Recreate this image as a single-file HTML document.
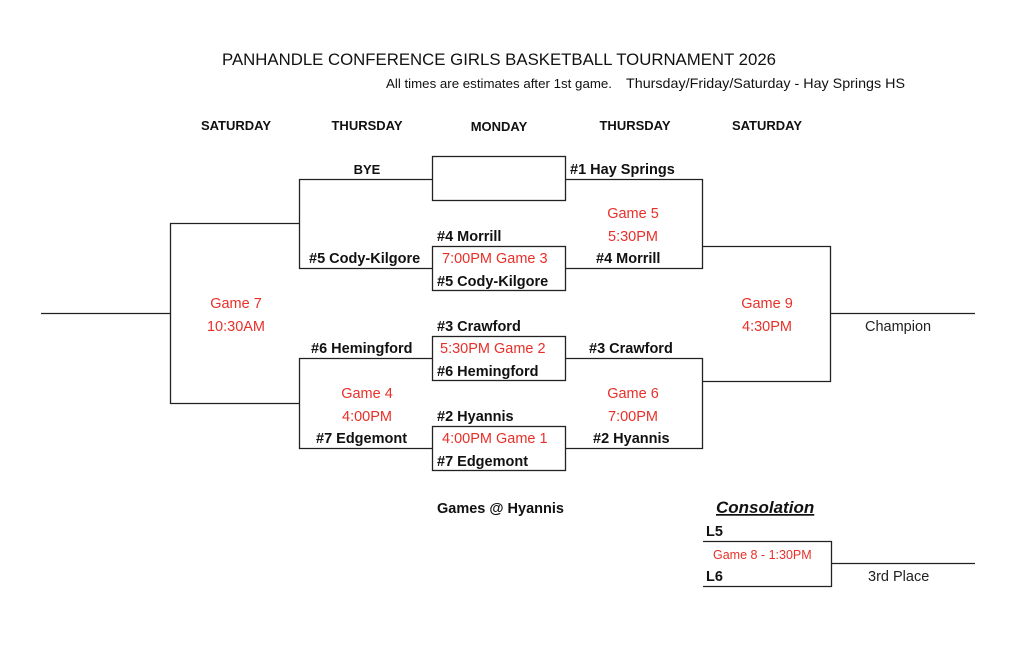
<!DOCTYPE html>
<html><head><meta charset="utf-8"><style>
html,body{margin:0;padding:0;background:#fff;}
svg{display:block;}
text{font-family:"Liberation Sans",sans-serif;}
.b{font-weight:bold;font-size:14.5px;fill:#111;}
.r{font-size:14.5px;fill:#e8302a;}
.h{font-weight:bold;font-size:13px;fill:#111;}
</style></head><body>
<svg width="1024" height="663" xmlns="http://www.w3.org/2000/svg">
<g stroke="#222" stroke-width="1.3" fill="none">
<rect x="432.5" y="156.5" width="133" height="44"/>
<rect x="432.5" y="246.5" width="133" height="44"/>
<rect x="432.5" y="336.5" width="133" height="44"/>
<rect x="432.5" y="426.5" width="133" height="44"/>
<polyline points="432,179.5 299.5,179.5 299.5,268.5 432,268.5"/>
<polyline points="432,358.5 299.5,358.5 299.5,448.5 432,448.5"/>
<polyline points="566,179.5 702.5,179.5 702.5,268.5 566,268.5"/>
<polyline points="566,358.5 702.5,358.5 702.5,448.5 566,448.5"/>
<polyline points="299,223.5 170.5,223.5 170.5,403.5 299,403.5"/>
<line x1="41" y1="313.5" x2="170" y2="313.5"/>
<polyline points="702,246.5 830.5,246.5 830.5,381.5 702,381.5"/>
<line x1="830" y1="313.5" x2="975" y2="313.5"/>
<polyline points="703,541.5 831.5,541.5 831.5,586.5 703,586.5"/>
<line x1="831" y1="563.5" x2="975" y2="563.5"/>
</g>
<text x="222" y="65" font-size="17" fill="#111" textLength="554" lengthAdjust="spacingAndGlyphs">PANHANDLE CONFERENCE GIRLS BASKETBALL TOURNAMENT 2026</text>
<text x="386" y="88" font-size="12.5" fill="#111" textLength="226" lengthAdjust="spacingAndGlyphs">All times are estimates after 1st game.</text>
<text x="626" y="88" font-size="14" fill="#111" textLength="279" lengthAdjust="spacingAndGlyphs">Thursday/Friday/Saturday - Hay Springs HS</text>
<text class="h" x="236" y="130" text-anchor="middle">SATURDAY</text>
<text class="h" x="367" y="130" text-anchor="middle">THURSDAY</text>
<text class="h" x="499" y="131" text-anchor="middle" font-size="12">MONDAY</text>
<text class="h" x="635" y="130" text-anchor="middle">THURSDAY</text>
<text class="h" x="767" y="130" text-anchor="middle">SATURDAY</text>
<text class="h" x="367" y="174" text-anchor="middle">BYE</text>
<text class="b" x="570" y="174">#1 Hay Springs</text>
<text class="r" x="633" y="218" text-anchor="middle">Game 5</text>
<text class="r" x="633" y="241" text-anchor="middle">5:30PM</text>
<text class="b" x="437" y="241">#4 Morrill</text>
<text class="b" x="309" y="263">#5 Cody-Kilgore</text>
<text class="r" x="442" y="263">7:00PM Game 3</text>
<text class="b" x="596" y="263">#4 Morrill</text>
<text class="b" x="437" y="286">#5 Cody-Kilgore</text>
<text class="r" x="236" y="308" text-anchor="middle">Game 7</text>
<text class="r" x="236" y="331" text-anchor="middle">10:30AM</text>
<text class="r" x="767" y="308" text-anchor="middle">Game 9</text>
<text class="r" x="767" y="331" text-anchor="middle">4:30PM</text>
<text x="865" y="331" font-size="14.5" fill="#222">Champion</text>
<text class="b" x="437" y="331">#3 Crawford</text>
<text class="b" x="311" y="353">#6 Hemingford</text>
<text class="r" x="440" y="353">5:30PM  Game 2</text>
<text class="b" x="589" y="353">#3 Crawford</text>
<text class="b" x="437" y="376">#6 Hemingford</text>
<text class="r" x="367" y="398" text-anchor="middle">Game 4</text>
<text class="r" x="367" y="421" text-anchor="middle">4:00PM</text>
<text class="r" x="633" y="398" text-anchor="middle">Game 6</text>
<text class="r" x="633" y="421" text-anchor="middle">7:00PM</text>
<text class="b" x="437" y="421">#2 Hyannis</text>
<text class="b" x="316" y="443">#7 Edgemont</text>
<text class="r" x="442" y="443">4:00PM Game 1</text>
<text class="b" x="593" y="443">#2 Hyannis</text>
<text class="b" x="437" y="466">#7 Edgemont</text>
<text class="b" x="437" y="513">Games @ Hyannis</text>
<text x="716" y="513" font-size="17" font-weight="bold" font-style="italic" fill="#111" text-decoration="underline">Consolation</text>
<text class="b" x="706" y="536">L5</text>
<text x="713" y="559" font-size="12.5" fill="#e8302a">Game 8 - 1:30PM</text>
<text class="b" x="706" y="581">L6</text>
<text x="868" y="581" font-size="14.5" fill="#222">3rd Place</text>
</svg>
</body></html>
